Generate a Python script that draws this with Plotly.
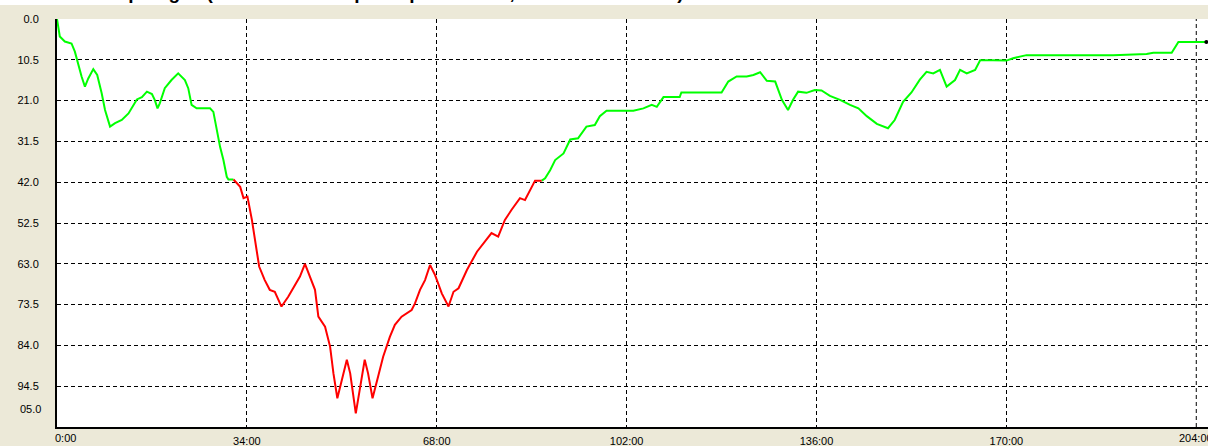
import plotly.graph_objects as go

# ---- data (time in minutes, depth) ----
t_green_1 = [0, 0.5, 1.4, 2.6, 3.2, 3.8, 4.4, 5.0, 5.6, 6.5, 7.2, 8.0, 8.6, 9.5, 10.4, 11.6,
             12.8, 14.3, 15.2, 16.1, 17.0, 17.5, 18.0, 18.4, 19.3, 20.5, 21.7, 22.9, 23.5,
             24.1, 25.0, 26.2, 27.4, 28.0, 28.6, 29.2, 29.8, 30.4, 30.7, 31.6]
d_green_1 = [0, 4.5, 5.8, 6.3, 8.4, 11.8, 14.8, 17.4, 15.3, 12.9, 14.4, 19.1, 23.4, 27.7, 26.8,
             26.0, 24.3, 20.7, 20.1, 18.7, 19.3, 20.8, 23.0, 21.7, 17.8, 15.7, 14.0, 15.7, 17.8,
             22.1, 23.0, 23.0, 23.0, 23.9, 28.6, 32.9, 36.3, 40.6, 41.3, 41.3]

t_red = [31.6, 32.2, 32.8, 33.4, 34.1, 34.9, 35.6, 36.2, 37.2, 38.1, 39.0, 40.2, 41.4, 42.6,
         43.5, 44.4, 45.3, 46.2, 46.8, 48.0, 48.9, 49.5, 50.2, 51.0, 51.9, 52.5, 53.0, 53.5,
         54.3, 55.1, 55.7, 56.5, 57.5, 58.4, 59.6, 60.5, 61.7, 63.5, 64.1, 65.0, 65.9, 66.8,
         67.7, 68.9, 70.1, 71.0, 71.9, 73.4, 75.2, 76.9, 77.8, 79.0, 80.2, 81.4, 82.9, 83.8,
         85.6, 86.8]
d_red = [41.3, 42.3, 43.2, 46.1, 45.7, 51.7, 57.7, 63.7, 67.2, 69.7, 70.2, 74.0, 71.5, 68.4,
         66.3, 63.0, 66.3, 69.7, 76.6, 79.2, 84.3, 91.2, 97.6, 92.9, 87.7, 91.2, 96.3, 101.5,
         94.6, 87.7, 91.2, 97.6, 92.0, 86.9, 81.8, 78.7, 76.6, 74.9, 73.2, 69.7, 67.2, 63.3,
         65.9, 70.6, 74.0, 70.2, 69.3, 64.6, 59.9, 56.9, 55.1, 56.0, 51.7, 49.1, 46.1, 46.6,
         41.6, 41.6]

t_green_2 = [86.8, 87.4, 88.3, 89.2, 90.7, 91.9, 93.3, 94.8, 96.3, 97.2, 98.4, 100.8, 103.2,
             105.0, 106.5, 107.4, 108.6, 111.5, 111.8, 115.1, 119.0, 120.2, 121.7, 123.5,
             124.7, 125.9, 127.1, 128.6, 129.8, 130.9, 131.8, 132.7, 134.2, 135.7, 136.9,
             138.4, 140.2, 142.0, 143.5, 145.0, 146.8, 148.8, 150.0, 151.5, 153.0, 154.5,
             155.7, 156.9, 158.1, 159.3, 160.8, 161.7, 162.9, 164.4, 165.3, 167.6, 170.0,
             171.2, 173.6, 177.2, 183.2, 189.1, 195.1, 196.3, 199.6, 200.8, 204.1, 205.8]
d_green_2 = [41.6, 41.0, 38.9, 36.3, 34.6, 31.0, 30.7, 27.7, 27.3, 25.0, 23.6, 23.6, 23.6,
             23.0, 22.1, 22.6, 20.1, 20.1, 18.9, 18.9, 18.9, 16.1, 14.8, 14.8, 14.4, 13.7,
             15.9, 16.1, 20.8, 23.4, 20.8, 18.7, 19.0, 18.3, 18.4, 19.8, 20.8, 22.1, 23.0,
             25.0, 27.0, 28.1, 26.0, 21.3, 18.9, 15.6, 13.6, 14.0, 13.1, 17.4, 15.7, 13.1,
             14.0, 13.1, 10.6, 10.6, 10.7, 10.1, 9.3, 9.3, 9.3, 9.3, 9.0, 8.7, 8.7, 5.9,
             5.9, 5.9]

x_tick_vals = [34, 68, 102, 136, 170]
x_tick_text = ["34:00", "68:00", "102:00", "136:00", "170:00"]
first_x_label = "0:00"
last_x_label = "204:00"
last_x_val = 204
y_tick_vals = [0, 10.5, 21.0, 31.5, 42.0, 52.5, 63.0, 73.5, 84.0, 94.5]
y_tick_text = ["0.0", "10.5", "21.0", "31.5", "42.0", "52.5", "63.0", "73.5", "84.0", "94.5"]
last_y_label = "05.0"
title_text = "Profil de plongée (échelle des temps en plein écran, durée en minutes)"

GREEN = "#00FF00"
RED = "#FF0000"
BEIGE = "#ECE9D8"
FONT = "Liberation Sans, Arial, sans-serif"

fig = go.Figure()
fig.add_trace(go.Scatter(x=t_green_1, y=d_green_1, mode="lines",
                         line=dict(color=GREEN, width=2), showlegend=False, hoverinfo="skip"))
fig.add_trace(go.Scatter(x=t_red, y=d_red, mode="lines",
                         line=dict(color=RED, width=2), showlegend=False, hoverinfo="skip"))
fig.add_trace(go.Scatter(x=t_green_2, y=d_green_2, mode="lines",
                         line=dict(color=GREEN, width=2), showlegend=False, hoverinfo="skip"))
fig.add_trace(go.Scatter(x=t_green_2[-1:], y=d_green_2[-1:], mode="markers",
                         marker=dict(color="black", size=4), showlegend=False,
                         hoverinfo="skip", cliponaxis=False))

W, H = 1208, 446
ml, mr, mt, mb = 57, 0, 19, 19
plot_h = H - mt - mb
plot_w = W - ml - mr

tick_font = dict(family=FONT, size=11, color="black")

fig.update_layout(
    width=W, height=H, autosize=False,
    margin=dict(l=ml, r=mr, t=mt, b=mb, pad=0),
    paper_bgcolor=BEIGE, plot_bgcolor="white",
    font=tick_font,
    xaxis=dict(range=[0, 206.1], tickmode="array", tickvals=x_tick_vals, ticktext=x_tick_text,
               showgrid=True, gridcolor="black", gridwidth=1, griddash="4px,3px",
               showline=True, linecolor="black", linewidth=2, zeroline=False,
               ticks="", ticklabelstandoff=3, fixedrange=True),
    yaxis=dict(range=[105, 0], tickmode="array", tickvals=y_tick_vals, ticktext=y_tick_text,
               showgrid=True, gridcolor="black", gridwidth=1, griddash="4px,3px",
               showline=True, linecolor="black", linewidth=2, zeroline=False,
               ticks="", ticklabelstandoff=14, fixedrange=True),
    shapes=[
        dict(type="rect", xref="paper", yref="paper",
             x0=-0.1, x1=1.05, y0=(plot_h + 14) / plot_h, y1=1.3,
             fillcolor="white", line=dict(width=0), layer="below"),
        dict(type="line", xref="x", yref="paper", x0=last_x_val, x1=last_x_val, y0=0, y1=1,
             line=dict(color="black", width=1, dash="4px,3px"), layer="below"),
    ],
    annotations=[
        dict(text=first_x_label, xref="x", x=0, yref="paper", y=0, xanchor="left",
             yanchor="top", xshift=-4, yshift=-3, showarrow=False, font=tick_font),
        dict(text=last_x_label, xref="x", x=last_x_val, yref="paper", y=0, xanchor="center",
             yanchor="top", yshift=-3, showarrow=False, font=tick_font),
        dict(text=last_y_label, xref="paper", x=0, yref="y", y=105, xanchor="right",
             yanchor="middle", xshift=-14, yshift=18, showarrow=False, font=tick_font),
        dict(text="<b>" + title_text + "</b>", xref="paper", x=-12 / plot_w, xanchor="left",
             yref="paper", y=(plot_h + 14) / plot_h, yanchor="bottom", showarrow=False,
             font=dict(family=FONT, size=19, color="black")),
    ],
)

fig.write_html(
    "out.html",
    config={"displayModeBar": False},
    post_script="document.body.style.margin='0';document.body.style.padding='0';"
                "document.body.style.overflow='hidden';",
)
